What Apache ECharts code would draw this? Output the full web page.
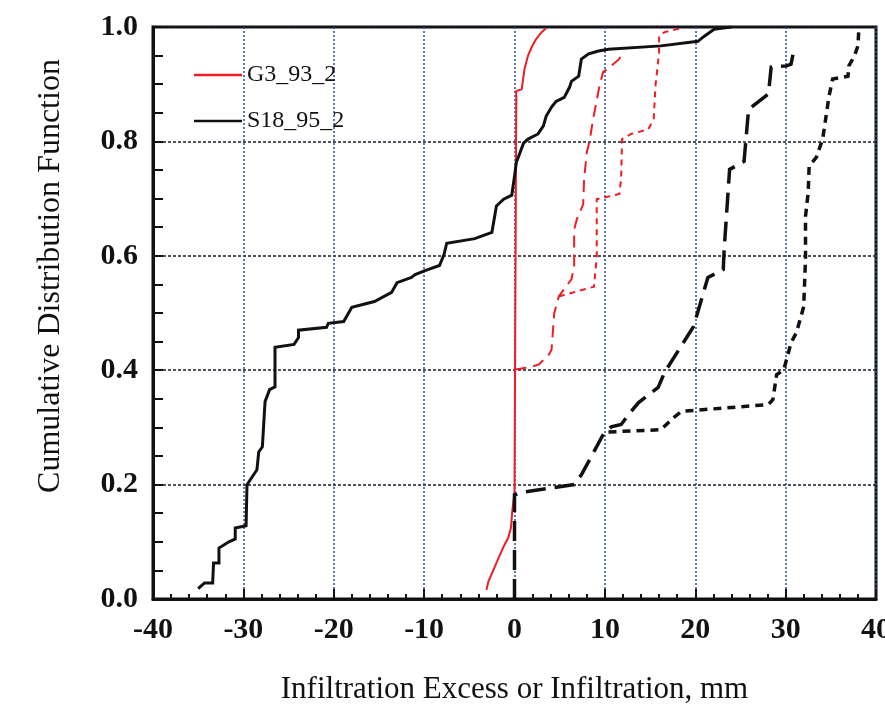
<!DOCTYPE html>
<html>
<head>
<meta charset="utf-8">
<script src="https://cdn.jsdelivr.net/npm/echarts@6/dist/echarts.min.js"></script>
<style>
  html, body { margin: 0; padding: 0; background: #fff; }
  #chart { width: 885px; height: 710px; }
</style>
</head>
<body>
<div id="chart"></div>
<script>
// G3_93_2 infiltration excess (red solid)
var g3ExcessX = [-3.1, -2.9, -1.7, -1.1, -0.7, -0.4, -0.2, 0, 0.2, 0.8, 1.1, 1.5, 1.9, 2.4, 3.0, 3.5];
var g3ExcessY = [0.016, 0.03, 0.074, 0.095, 0.107, 0.124, 0.161, 0.186, 0.888, 0.891, 0.926, 0.95, 0.965, 0.979, 0.991, 0.998];

// G3_93_2 infiltration (red long dash)
var g3InfilX = [0, 1.1, 1.9, 2.7, 3.8, 4.1, 4.4, 4.9, 6.3, 6.6, 6.6, 6.9, 7.6, 7.7, 8.0, 8.3, 8.7, 9.4, 9.8, 10.7, 11.6, 11.9];
var g3InfilY = [0.401, 0.404, 0.406, 0.41, 0.427, 0.436, 0.5, 0.529, 0.559, 0.581, 0.646, 0.664, 0.69, 0.734, 0.781, 0.8, 0.839, 0.897, 0.921, 0.932, 0.944, 0.958];

// G3_93_2 second infiltration curve (red short dash)
var g3Infil2X = [4.9, 8.8, 9.1, 9.1, 11.6, 11.8, 11.9, 12.9, 14.8, 15.4, 15.6, 16.0, 16.0, 16.6, 18.5];
var g3Infil2Y = [0.529, 0.546, 0.599, 0.699, 0.708, 0.734, 0.804, 0.813, 0.821, 0.839, 0.897, 0.956, 0.984, 0.991, 0.998];

// S18_95_2 infiltration excess (black solid)
var s18ExcessX = [-35.0, -34.3, -33.4, -33.3, -32.7, -32.7, -31.6, -30.9, -30.9, -29.7, -29.6, -28.5, -28.3, -27.9, -27.6, -27.1, -26.5, -26.5,
  -24.4, -23.9, -23.9, -20.8, -20.6, -18.9, -18.0, -15.5, -13.6, -13.0, -11.4, -11.0, -9.9, -8.3, -7.8, -7.5, -4.4, -2.5, -2.0, -1.2, -0.3,
  0.0, 0.2, 1.0, 1.5, 2.6, 3.2, 3.5, 4.1, 4.6, 5.5, 6.1, 6.3, 7.1, 7.4, 8.2, 9.3, 10.4, 16.2, 20.3, 21.0, 22.1, 22.9, 24.0];
var s18ExcessY = [0.018, 0.028, 0.028, 0.063, 0.063, 0.089, 0.10, 0.105, 0.124, 0.128, 0.20, 0.226, 0.257, 0.266, 0.345, 0.366, 0.371, 0.44,
  0.445, 0.457, 0.47, 0.475, 0.482, 0.485, 0.51, 0.52, 0.536, 0.553, 0.562, 0.567, 0.574, 0.583, 0.602, 0.622, 0.63, 0.641, 0.687, 0.699, 0.706,
  0.739, 0.763, 0.797, 0.804, 0.813, 0.827, 0.844, 0.86, 0.87, 0.877, 0.895, 0.905, 0.914, 0.944, 0.953, 0.958, 0.961, 0.967, 0.975, 0.984, 0.996, 0.998, 1.0];

// S18_95_2 infiltration (black long dash)
var s18InfilX = [0, 0, 1.0, 6.6, 7.4, 9.9, 10.7, 11.8, 12.6, 13.7, 15.9, 16.6, 19.8, 21.4, 23.1, 23.2, 23.8, 25.4, 25.9, 28.1, 28.4, 30.1, 30.6, 31.0];
var s18InfilY = [0, 0.182, 0.187, 0.2, 0.217, 0.29, 0.301, 0.305, 0.322, 0.343, 0.37, 0.396, 0.476, 0.562, 0.576, 0.611, 0.751, 0.765, 0.856, 0.883, 0.93, 0.932, 0.935, 0.967];

// S18_95_2 second infiltration curve (black short dash)
var s18Infil2X = [10.4, 16.2, 17.6, 18.5, 28.1, 28.6, 29.0, 29.8, 30.4, 30.6, 31.2, 32.0, 32.2, 32.2, 32.5, 32.6, 33.4, 34.1, 34.8, 35.2, 36.9, 37.0, 37.6, 38.0, 38.1];
var s18Infil2Y = [0.292, 0.296, 0.317, 0.328, 0.34, 0.349, 0.392, 0.401, 0.436, 0.448, 0.466, 0.511, 0.594, 0.669, 0.711, 0.757, 0.772, 0.804, 0.879, 0.909, 0.914, 0.932, 0.949, 0.967, 0.996];

var legendNames = ['G3_93_2', 'S18_95_2'];

var RED = '#f01c24';
var BLACK = '#111111';
var FONT = 'Liberation Serif';

function pairs(xs, ys) {
  var out = [];
  for (var i = 0; i < xs.length; i++) out.push([xs[i], ys[i]]);
  return out;
}

function curve(name, xs, ys, color, width, dash) {
  return {
    name: name,
    type: 'line',
    data: pairs(xs, ys),
    symbol: 'none',
    smooth: false,
    lineStyle: { color: color, width: width, type: dash || 'solid', cap: 'butt', join: 'miter' },
    itemStyle: { color: color },
    z: 3
  };
}

var chart = echarts.init(document.getElementById('chart'));

var option = {
  animation: false,
  backgroundColor: '#fff',
  grid: {
    left: 153, right: 9, top: 27, bottom: 111,
    outerBoundsMode: 'none',
    show: true, borderColor: BLACK, borderWidth: 3, backgroundColor: 'transparent'
  },
  legend: {
    data: legendNames,
    orient: 'vertical',
    left: 194, top: 63, padding: 0,
    icon: 'rect',
    itemWidth: 48, itemHeight: 2.5, itemGap: 22,
    textStyle: { fontFamily: FONT, fontSize: 24, color: BLACK, lineHeight: 24 }
  },
  xAxis: {
    type: 'value',
    min: -40, max: 40, interval: 10,
    name: 'Infiltration Excess or Infiltration, mm',
    nameLocation: 'middle', nameGap: 75,
    nameTextStyle: { fontFamily: FONT, fontSize: 31, color: BLACK },
    axisLine: { show: true, onZero: false, lineStyle: { color: BLACK, width: 3 } },
    axisTick: { show: true, inside: true, length: 10, lineStyle: { color: BLACK, width: 2 } },
    minorTick: { show: true, splitNumber: 5, length: 5, lineStyle: { color: BLACK, width: 2 } },
    axisLabel: { fontFamily: FONT, fontSize: 30, fontWeight: 'bold', color: BLACK, margin: 16 },
    splitLine: { show: true, lineStyle: { color: '#2a4a9a', width: 1.5, type: [2, 2] } }
  },
  yAxis: {
    type: 'value',
    min: 0, max: 1, interval: 0.2,
    name: 'Cumulative Distribution Function',
    nameLocation: 'middle', nameGap: 86,
    nameTextStyle: { fontFamily: FONT, fontSize: 32, color: BLACK, padding: [0, 0, 0, 74] },
    axisLine: { show: true, onZero: false, lineStyle: { color: BLACK, width: 3 } },
    axisTick: { show: true, inside: true, length: 10, lineStyle: { color: BLACK, width: 2 } },
    minorTick: { show: true, splitNumber: 4, length: 10, lineStyle: { color: BLACK, width: 2 } },
    axisLabel: {
      fontFamily: FONT, fontSize: 30, fontWeight: 'bold', color: BLACK, margin: 15,
      formatter: function (v) { return v.toFixed(1); }
    },
    splitLine: { show: true, lineStyle: { color: '#1a1a2a', width: 1.5, type: [3, 2] } }
  },
  series: [
    curve('G3_93_2', g3ExcessX, g3ExcessY, RED, 2),
    curve('S18_95_2', s18ExcessX, s18ExcessY, BLACK, 3),
    curve('G3_93_2', g3InfilX, g3InfilY, RED, 2, [12, 7]),
    curve('G3_93_2', g3Infil2X, g3Infil2Y, RED, 2, [6, 5]),
    curve('S18_95_2', s18InfilX, s18InfilY, BLACK, 3.5, [20, 9]),
    curve('S18_95_2', s18Infil2X, s18Infil2Y, BLACK, 3.5, [8, 6])
  ]
};

chart.setOption(option);
</script>
</body>
</html>
